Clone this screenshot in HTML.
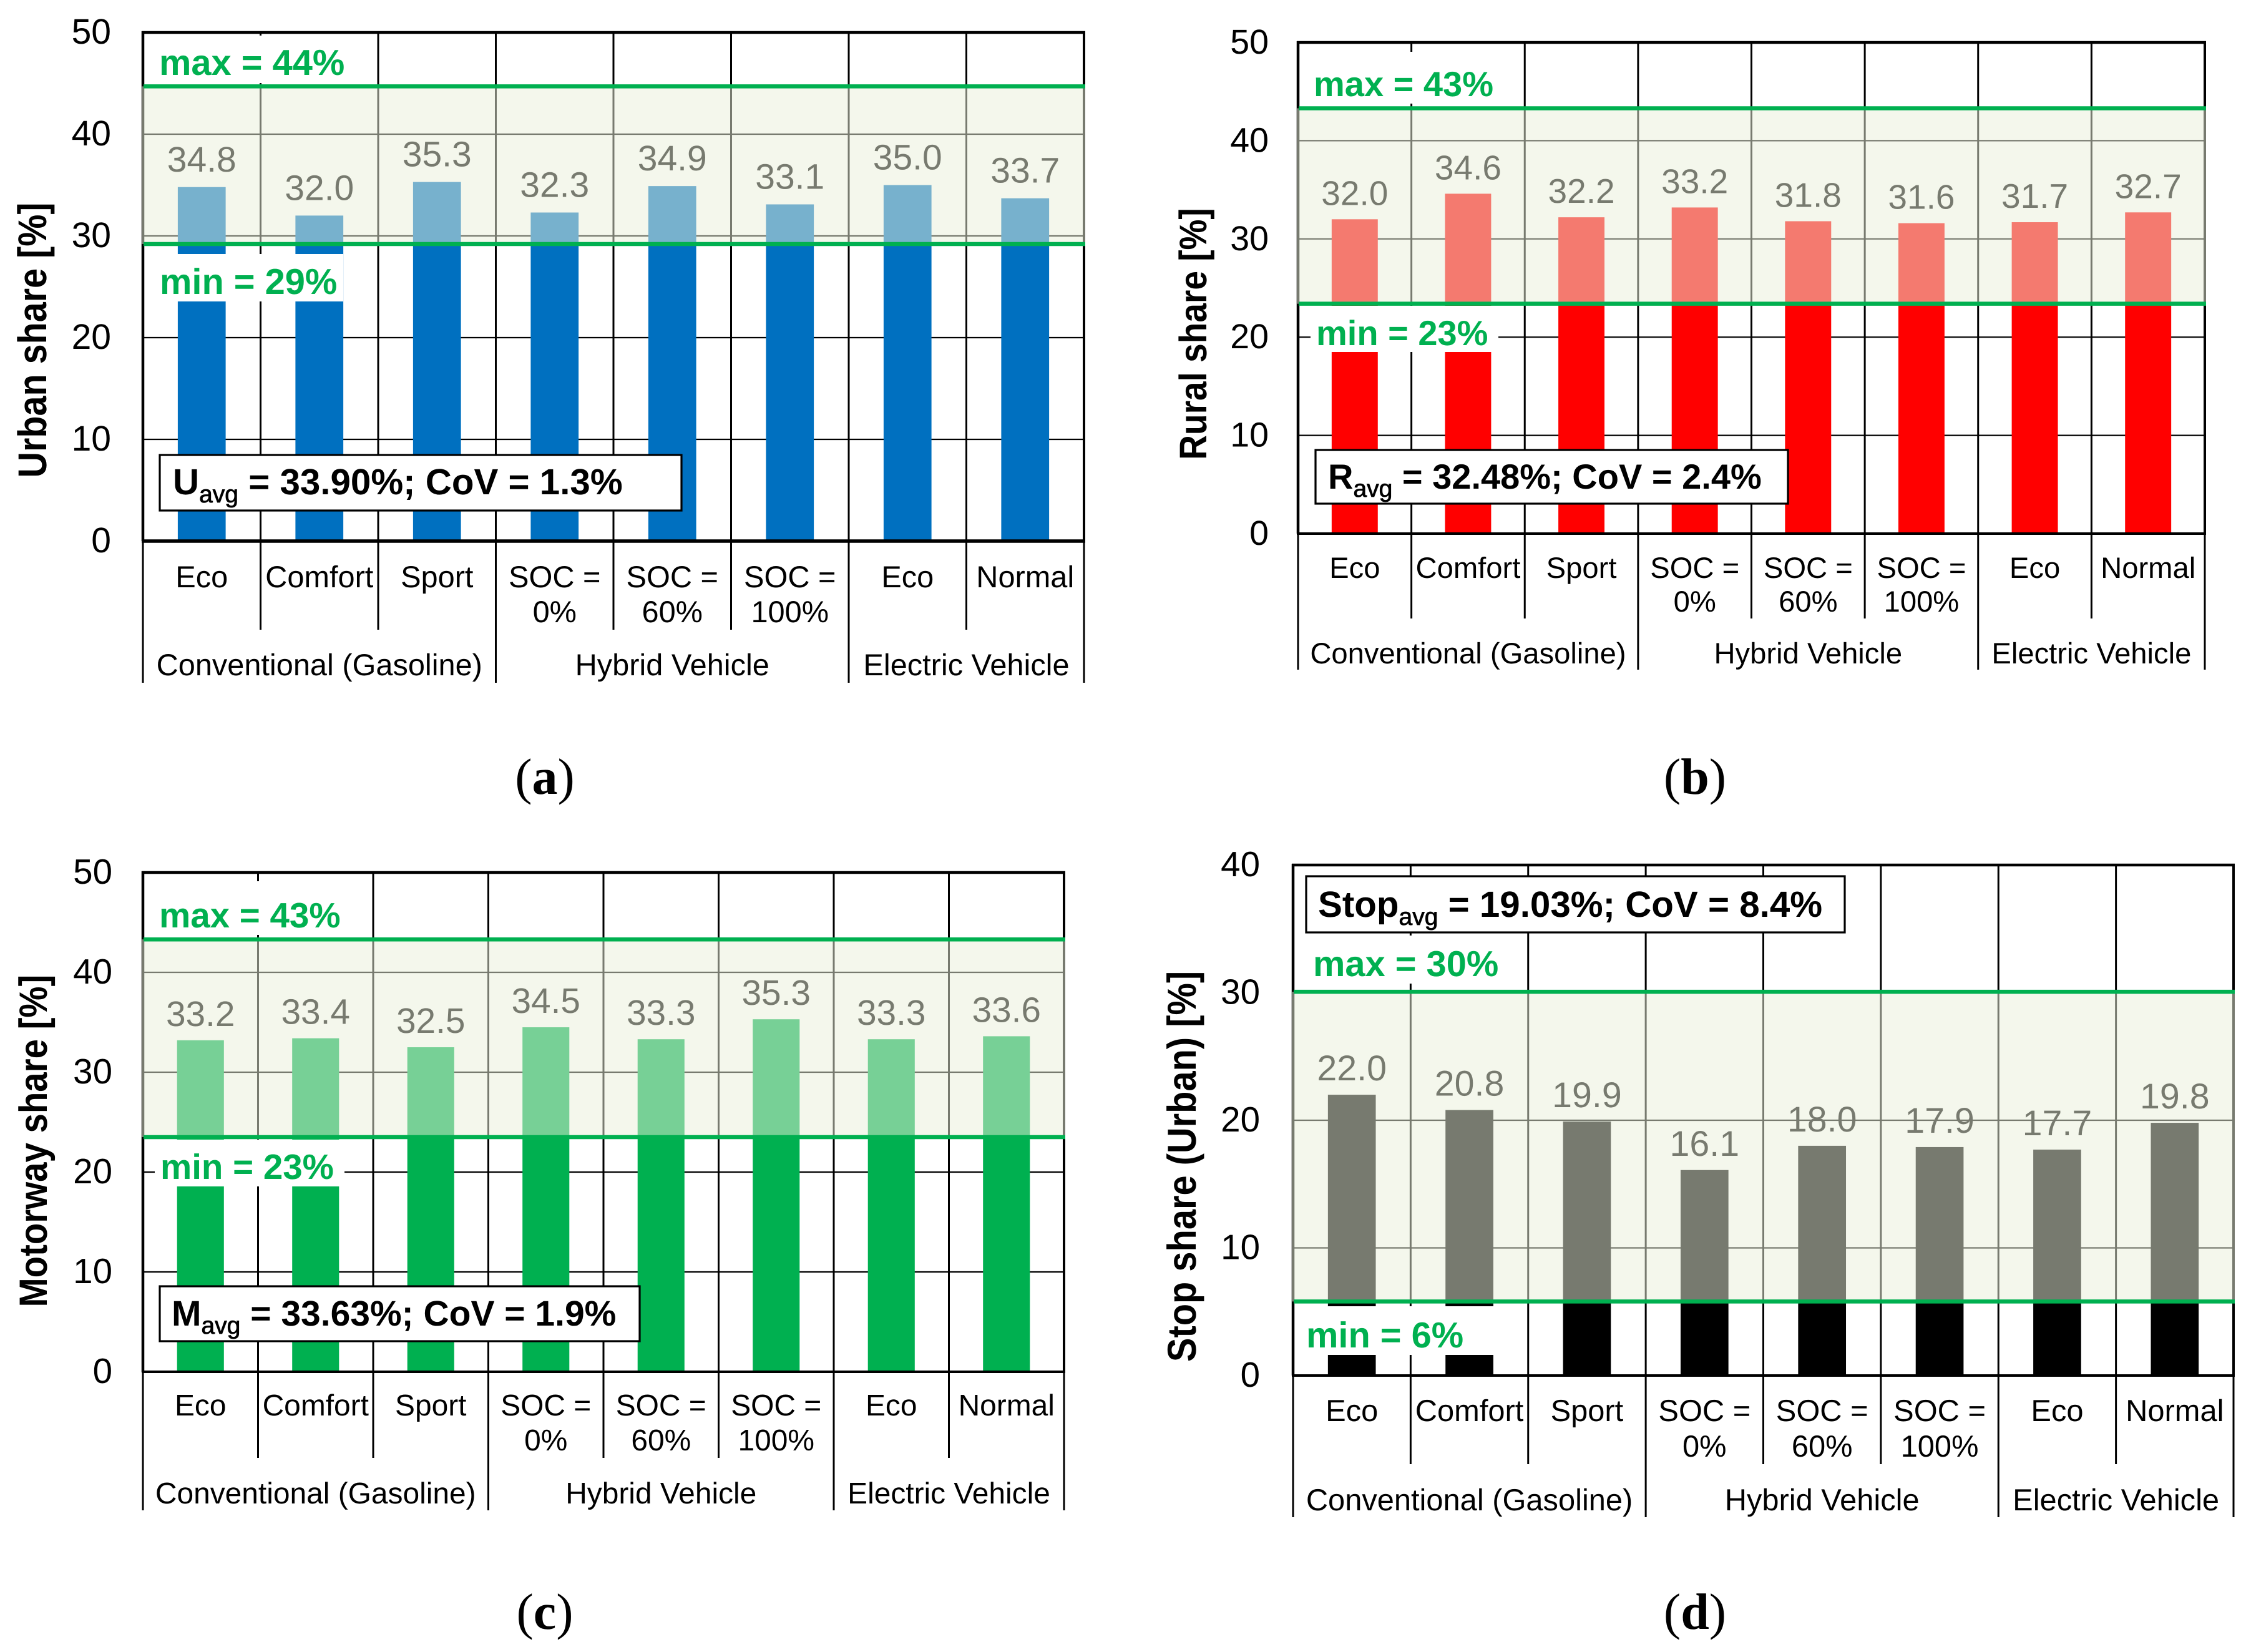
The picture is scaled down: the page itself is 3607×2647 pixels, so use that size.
<!DOCTYPE html>
<html lang="en">
<head>
<meta charset="utf-8">
<title>Urban, rural, motorway and stop share by vehicle and mode</title>
<style>
html,body{margin:0;padding:0;background:#fff;}
svg{display:block;text-rendering:geometricPrecision;}
text{font-family:"Liberation Sans",Arial,sans-serif;}
.cap{font-family:"Liberation Serif","Times New Roman",serif;}
</style>
</head>
<body>
<svg id="figure" xmlns="http://www.w3.org/2000/svg" width="3607" height="2647" viewBox="0 0 3607 2647"></svg>
<script>
// ---- Data ----
const categoryLines = [["Eco"],["Comfort"],["Sport"],["SOC =","0%"],["SOC =","60%"],["SOC =","100%"],["Eco"],["Normal"]];
const groupNames = ["Conventional (Gasoline)","Hybrid Vehicle","Electric Vehicle"];
const groupSizes = [3,3,2];
const shareTicks = [0,10,20,30,40,50];
const stopTicks = [0,10,20,30,40];
const urbanValues = [34.8,32.0,35.3,32.3,34.9,33.1,35.0,33.7];
const ruralValues = [32.0,34.6,32.2,33.2,31.8,31.6,31.7,32.7];
const motorwayValues = [33.2,33.4,32.5,34.5,33.3,35.3,33.3,33.6];
const stopValues = [22.0,20.8,19.9,16.1,18.0,17.9,17.7,19.8];
const urbanBand = [29.2,44.7];
const ruralBand = [23.4,43.3];
const motorwayBand = [23.5,43.3];
const stopBand = [5.8,30.07];

// ---- Layout ----
const panels = [
 {id:'urban',cap:'a',capX:873,capY:1272,L:229,R:1737,T:52,B:867,yMax:50,ticks:shareTicks,values:urbanValues,band:urbanBand,color:'#0070c0',
  title:'Urban share [%]',titleX:74,titleY:545,titleSize:57.5,tickSize:57,tickX:178,tickDy:18,valSize:57,valGap:25,boldSize:57.8,catSize:48.7,axisW:5.5,
  cat1:74,cat2:130,group:215,tick1:142,tick2:227,
  maxText:'max = 44%',maxX:255,maxY:120,maxBox:[250,57,310,76],minText:'min = 29%',minX:256,minY:471,minBox:[250,407,300,76],
  statHead:'U',statTail:' = 33.90%; CoV = 1.3%',statBox:[256,729,836,89],statX:277,statY:792,statSize:58.3},
 {id:'rural',cap:'b',capX:2716,capY:1272,L:2080,R:3533,T:68,B:855,yMax:50,ticks:shareTicks,values:ruralValues,band:ruralBand,color:'#ff0000',
  title:'Rural share [%]',titleX:1933,titleY:535,titleSize:55,tickSize:55.5,tickX:2033,tickDy:18,valSize:55,valGap:23,boldSize:56,catSize:47.2,axisW:4,
  cat1:71,cat2:125,group:208,tick1:136,tick2:218,
  maxText:'max = 43%',maxX:2105,maxY:154,maxBox:[2100,83,300,83],minText:'min = 23%',minX:2109,minY:553,minBox:[2100,490,301,74],
  statHead:'R',statTail:' = 32.48%; CoV = 2.4%',statBox:[2108,721,757,86],statX:2128,statY:783,statSize:56},
 {id:'motorway',cap:'c',capX:873,capY:2610,L:229,R:1705,T:1398,B:2198,yMax:50,ticks:shareTicks,values:motorwayValues,band:motorwayBand,color:'#00b050',
  title:'Motorway share [%]',titleX:75,titleY:1828,titleSize:56.4,tickSize:56.5,tickX:180,tickDy:18,valSize:56.8,valGap:23,boldSize:56.5,catSize:47.9,axisW:4,
  cat1:70,cat2:126,group:211,tick1:138,tick2:222,
  maxText:'max = 43%',maxX:255,maxY:1486,maxBox:[248,1412,310,86],minText:'min = 23%',minX:257,minY:1889,minBox:[248,1826,304,75],
  statHead:'M',statTail:' = 33.63%; CoV = 1.9%',statBox:[256,2061,769,88],statX:275,statY:2124,statSize:57},
 {id:'stop',cap:'d',capX:2716,capY:2610,L:2072,R:3579,T:1386,B:2204,yMax:40,ticks:stopTicks,values:stopValues,band:stopBand,color:'#000000',
  title:'Stop share (Urban) [%]',titleX:1916,titleY:1869,titleSize:57.8,tickSize:56.5,tickX:2019,tickDy:18,valSize:57.3,valGap:23,boldSize:57.8,catSize:48.8,axisW:4,
  cat1:73,cat2:130,group:216,tick1:142,tick2:227,
  maxText:'max = 30%',maxX:2104,maxY:1564,maxBox:[2092,1499,330,77],minText:'min = 6%',minX:2093,minY:2159,minBox:[2085,2093,310,78],
  statHead:'Stop',statTail:' = 19.03%; CoV = 8.4%',statBox:[2093,1404,863,90],statX:2112,statY:1469,statSize:58.3}
];

const NS = 'http://www.w3.org/2000/svg';
const fig = document.getElementById('figure');

function make(tag, parent, attrs, label) {
  const el = document.createElementNS(NS, tag);
  for (const k in attrs) el.setAttribute(k, attrs[k]);
  
  
  parent.appendChild(el);
  return el;
}
function line(parent, x1, y1, x2, y2, w, c, label) {
  return make('line', parent, {x1:x1,y1:y1,x2:x2,y2:y2,stroke:c,'stroke-width':w}, label);
}
function label(parent, str, x, y, size, opts, name) {
  const el = make('text', parent, Object.assign({x:x,y:y,'font-size':size}, opts || {}), name);
  el.textContent = str;
  return el;
}

panels.forEach(function (p) {
  const g = make('g', fig, {}, p.id + '-chart');
  const scaleY = function (v) { return p.B - (v / p.yMax) * (p.B - p.T); };
  const n = p.values.length;
  const catW = (p.R - p.L) / n;
  const scaleX = function (i) { return p.L + catW * i; };
  const barW = catW * 0.407;

  // horizontal gridlines and y tick labels
  p.ticks.forEach(function (t) {
    if (t !== 0 && t !== p.yMax) line(g, p.L, scaleY(t), p.R, scaleY(t), 2.2, '#000', 'gridline-' + t);
    label(g, String(t), p.tickX, scaleY(t) + p.tickDy, p.tickSize, {'text-anchor':'end',fill:'#000'}, 'y-tick-label-' + t);
  });

  // vertical separators in the plot
  for (let i = 1; i < n; i++) {
    line(g, scaleX(i), p.T, scaleX(i), p.B, 3, '#000', 'category-divider-' + i);
  }

  // left, right and top frame (beneath the band overlay)
  line(g, p.L, p.T - 2, p.L, p.B, 4.5, '#000', 'left-axis');
  line(g, p.R, p.T - 2, p.R, p.B, 4, '#000', 'right-frame');
  line(g, p.L - 2, p.T, p.R + 2, p.T, 4.5, '#000', 'top-frame');

  // bars
  p.values.forEach(function (v, i) {
    const cx = scaleX(i) + catW / 2;
    make('rect', g, {x:cx - barW / 2, y:scaleY(v), width:barW, height:p.B - scaleY(v), fill:p.color}, 'bar-' + p.id + '-' + (i + 1));
    label(g, v.toFixed(1), cx, scaleY(v) - p.valGap, p.valSize, {'text-anchor':'middle',fill:'#000'}, 'value-label-' + (i + 1));
  });

  // translucent acceptance band
  const yHi = scaleY(p.band[1]);
  const yLo = scaleY(p.band[0]);
  make('rect', g, {x:p.L - 2, y:yHi, width:p.R - p.L + 4, height:yLo - yHi, fill:'rgb(233,239,218)', 'fill-opacity':0.51}, 'acceptance-band');

  // white patches behind the min/max labels
  make('rect', g, {x:p.maxBox[0], y:p.maxBox[1], width:p.maxBox[2], height:p.maxBox[3], fill:'#fff'}, 'max-label-background');
  make('rect', g, {x:p.minBox[0], y:p.minBox[1], width:p.minBox[2], height:p.minBox[3], fill:'#fff'}, 'min-label-background');

  // limit lines
  line(g, p.L + 1, yHi, p.R + 2, yHi, 6.5, '#00b050', 'max-limit-line');
  line(g, p.L + 1, yLo, p.R + 2, yLo, 6.5, '#00b050', 'min-limit-line');

  label(g, p.maxText, p.maxX, p.maxY, p.boldSize, {'font-weight':'bold',fill:'#00b050'}, 'max-label');
  label(g, p.minText, p.minX, p.minY, p.boldSize, {'font-weight':'bold',fill:'#00b050'}, 'min-label');

  // bottom axis
  line(g, p.L - 2, p.B, p.R + 2, p.B, p.axisW, '#000', 'x-axis');

  // category dividers below axis
  let boundary = 0;
  const groupEdges = [0];
  groupSizes.forEach(function (s) { boundary += s; groupEdges.push(boundary); });
  for (let i = 0; i <= n; i++) {
    const isGroup = groupEdges.indexOf(i) >= 0;
    line(g, scaleX(i), p.B, scaleX(i), p.B + (isGroup ? p.tick2 : p.tick1), 3, '#000', isGroup ? 'group-divider' : 'category-tick');
  }
  categoryLines.forEach(function (lines, i) {
    const cx = scaleX(i) + catW / 2;
    lines.forEach(function (t, j) {
      label(g, t, cx, p.B + (j === 0 ? p.cat1 : p.cat2), p.catSize, {'text-anchor':'middle',fill:'#000'}, 'category-label');
    });
  });
  groupNames.forEach(function (t, k) {
    const cx = (scaleX(groupEdges[k]) + scaleX(groupEdges[k + 1])) / 2;
    label(g, t, cx, p.B + p.group, p.catSize, {'text-anchor':'middle',fill:'#000'}, 'group-label');
  });

  // stats box
  make('rect', g, {x:p.statBox[0], y:p.statBox[1], width:p.statBox[2], height:p.statBox[3], fill:'#fff', stroke:'#000', 'stroke-width':3.2}, 'stats-box');
  const stat = make('text', g, {x:p.statX, y:p.statY, 'font-size':p.statSize, 'font-weight':'bold', fill:'#000'}, 'stats-text');
  const head = document.createElementNS(NS, 'tspan');
  head.textContent = p.statHead;
  stat.appendChild(head);
  const sub = document.createElementNS(NS, 'tspan');
  sub.setAttribute('font-size', '39');
  sub.setAttribute('dy', '13');
  sub.setAttribute('font-weight', 'normal');
  sub.setAttribute('stroke', '#000');
  sub.setAttribute('stroke-width', '0.8');
  sub.textContent = 'avg';
  stat.appendChild(sub);
  const tail = document.createElementNS(NS, 'tspan');
  tail.setAttribute('dy', '-13');
  tail.setAttribute('xml:space', 'preserve');
  tail.style.whiteSpace = 'pre';
  tail.textContent = p.statTail;
  stat.appendChild(tail);

  // y axis title (glyphs are stretched perpendicular to the baseline in the source)
  label(g, p.title, 0, 0, p.titleSize, {'text-anchor':'middle','font-weight':'bold',fill:'#000',transform:'translate(' + p.titleX + ' ' + p.titleY + ') rotate(-90) scale(1 1.12)'}, 'y-axis-title');

  // panel caption
  const cap = make('text', g, {x:p.capX, y:p.capY, 'font-size':82, 'text-anchor':'middle', fill:'#000', 'class':'cap'}, 'panel-caption');
  const c1 = document.createElementNS(NS, 'tspan');
  c1.textContent = '(';
  cap.appendChild(c1);
  const c2 = document.createElementNS(NS, 'tspan');
  c2.setAttribute('font-weight', 'bold');
  c2.textContent = p.cap;
  cap.appendChild(c2);
  const c3 = document.createElementNS(NS, 'tspan');
  c3.textContent = ')';
  cap.appendChild(c3);
});
</script>
</body>
</html>
